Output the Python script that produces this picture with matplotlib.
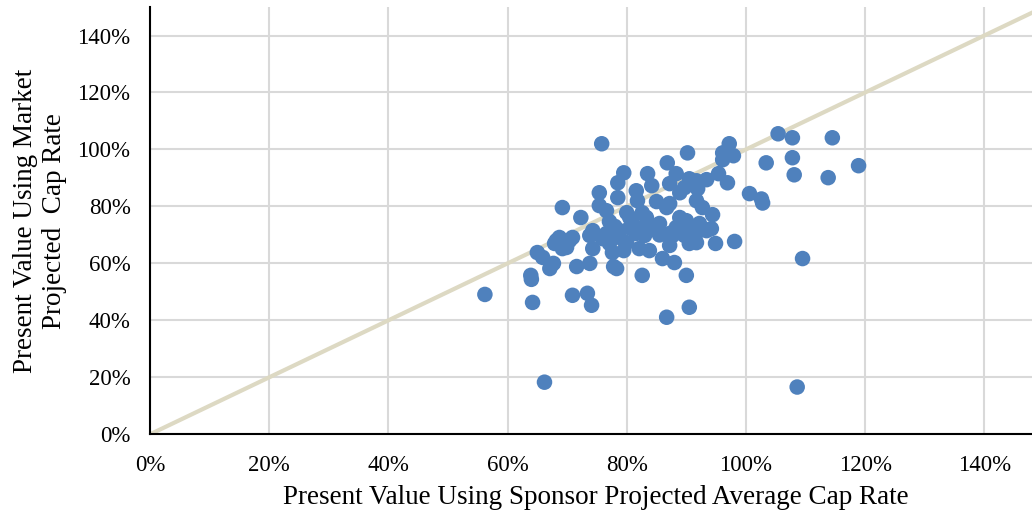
import matplotlib
matplotlib.use("Agg")
import matplotlib.pyplot as plt
from matplotlib.ticker import FuncFormatter

# sponsor cap rate PV (%) vs market cap rate PV (%)
sponsor_pv = [
    56.2, 63.9, 64.0, 64.2, 65.0, 65.9, 66.2, 67.1, 67.7, 68.2, 67.9, 68.7,
    69.9, 69.2, 70.4, 70.9, 69.2, 72.3, 70.9, 73.4, 74.1, 71.6, 73.8, 77.8,
    78.3, 74.3, 73.8, 74.3, 75.4, 75.8, 75.4, 76.6, 77.1, 76.6, 75.9, 77.1,
    77.6, 78.5, 78.5, 79.5, 78.8, 78.8, 80.0, 80.0, 80.5, 81.0, 81.6, 81.8,
    81.6, 82.1, 82.6, 83.0, 82.6, 83.5, 84.2, 83.3, 83.8, 84.3, 85.0, 85.5,
    86.0, 86.7, 86.8, 87.2, 87.2, 87.2, 87.2, 87.7, 88.0, 86.7, 88.3, 88.3,
    88.9, 88.9, 89.7, 90.0, 89.7, 90.0, 90.2, 90.5, 90.5, 90.5, 91.0, 91.7,
    91.7, 91.7, 91.9, 92.2, 92.2, 92.7, 93.4, 93.4, 94.2, 94.4, 94.9, 95.4,
    96.1, 96.1, 96.9, 97.2, 97.9, 98.1, 100.6, 102.6, 102.8, 103.4, 105.4,
    107.8, 107.8, 108.1, 108.6, 109.5, 113.8, 114.5, 118.9,
    78.0, 80.5, 83.0, 85.5, 79.5,
]
market_pv = [
    49.1, 55.8, 54.4, 46.3, 63.8, 62.1, 18.3, 58.2, 60.0, 68.0, 67.0, 69.1,
    65.6, 65.2, 68.0, 69.1, 79.6, 76.1, 48.8, 49.5, 45.3, 58.9, 60.0, 58.9,
    58.2, 71.5, 69.8, 65.2, 84.8, 102.0, 80.3, 78.5, 74.7, 70.5, 68.7, 67.0,
    63.8, 88.3, 83.1, 91.8, 71.5, 69.1, 77.8, 67.3, 76.1, 74.0, 85.5, 82.0,
    70.5, 65.2, 77.8, 69.8, 55.8, 91.5, 87.3, 76.1, 64.5, 72.9, 81.7, 74.0,
    61.7, 79.6, 95.3, 88.0, 81.0, 70.5, 66.3, 69.8, 60.3, 41.1, 91.5, 72.6,
    84.8, 76.1, 86.6, 75.0, 69.8, 55.8, 98.8, 89.7, 67.0, 44.6, 70.8, 89.0,
    82.0, 67.3, 86.2, 74.0, 71.5, 79.6, 89.4, 71.5, 72.2, 77.1, 67.0, 91.5,
    98.8, 96.4, 88.3, 102.0, 97.8, 67.7, 84.5, 82.6, 81.2, 95.3, 105.5,
    104.1, 97.1, 91.1, 16.6, 61.7, 90.1, 104.1, 94.3,
    73.0, 72.5, 73.0, 70.0, 64.5,
]
ref_line = [0, 150]

plt.rcParams["font.family"] = ["Liberation Serif", "DejaVu Serif"]

fig = plt.figure(figsize=(10.32, 5.16), dpi=100)
ax = fig.add_axes([0.1453, 0.1583, 0.8547, 0.8281])

ax.plot(ref_line, ref_line, color="#ddd9c3", lw=3, zorder=2)
ax.scatter(sponsor_pv, market_pv, s=125, color="#4f81bd", edgecolors="none", zorder=3)

ax.set_xlim(0, 148)
ax.set_ylim(0, 150)
ticks = [0, 20, 40, 60, 80, 100, 120, 140]
ax.set_xticks(ticks)
ax.set_yticks(ticks)
pct = FuncFormatter(lambda v, p: f"{v:.0f}%")
ax.xaxis.set_major_formatter(pct)
ax.yaxis.set_major_formatter(pct)
ax.tick_params(length=0, labelsize=16.5)
ax.tick_params(axis="y", pad=14)
ax.tick_params(axis="x", pad=15)

ax.grid(True, color="#d9d9d9", lw=1.5, zorder=0)
ax.set_axisbelow(True)
for s in ["top", "right"]:
    ax.spines[s].set_visible(False)
for s in ["left", "bottom"]:
    ax.spines[s].set_color("black")
    ax.spines[s].set_linewidth(1.5)

ax.set_xlabel("Present Value Using Sponsor Projected Average Cap Rate", fontsize=19.5)
ax.xaxis.set_label_coords(0.505, -0.118)
ax.set_ylabel("Present Value Using Market\nProjected  Cap Rate", fontsize=19.5, linespacing=1.2)
ax.yaxis.set_label_coords(-0.094, 0.5)

fig.savefig("out.png", dpi=100)
